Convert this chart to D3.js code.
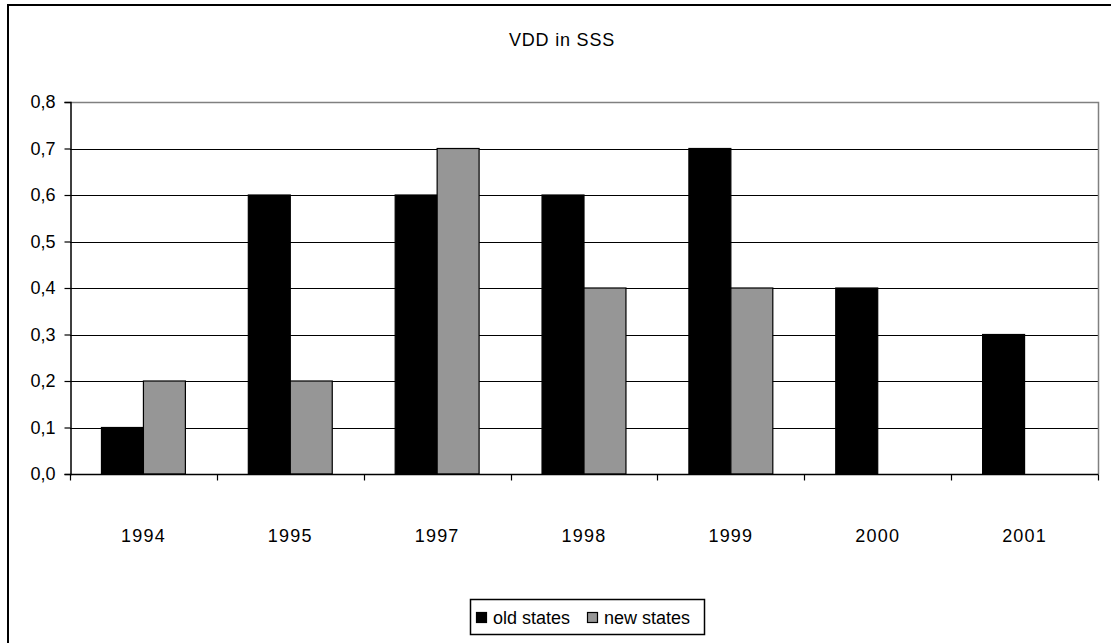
<!DOCTYPE html>
<html>
<head>
<meta charset="utf-8">
<script src="https://cdn.jsdelivr.net/npm/d3@7"></script>
<style>
  html, body { margin: 0; padding: 0; background: #fff; }
  svg { display: block; font-family: "Liberation Sans", Arial, sans-serif; }
</style>
</head>
<body>
<svg id="chart" width="1111" height="643"></svg>
<script>
// Chart data
const years = ["1994", "1995", "1997", "1998", "1999", "2000", "2001"];
const oldStates = [0.1, 0.6, 0.6, 0.6, 0.7, 0.4, 0.3];
const newStates = [0.2, 0.2, 0.7, 0.4, 0.4, null, null];
const seriesNames = ["old states", "new states"];
const seriesColors = ["#000000", "#969696"];
const yTicks = [0, 0.1, 0.2, 0.3, 0.4, 0.5, 0.6, 0.7, 0.8];
const title = "VDD in SSS";

const svg = d3.select("#chart");
const fmt = v => d3.format(".1f")(v).replace(".", ",");

// Outer chart frame (extends past the right and bottom edges)
svg.append("rect")
  .attr("x", 8).attr("y", 5).attr("width", 1200).attr("height", 800)
  .attr("fill", "none").attr("stroke", "#000").attr("stroke-width", 2);

const plot = { left: 70, right: 1098, top: 102, bottom: 474 };

const x = d3.scaleBand().domain(years)
  .range([plot.left, plot.right]).paddingInner(0).paddingOuter(0);
const y = d3.scaleLinear().domain([0, 0.8]).range([plot.bottom, plot.top]);

// Inner group layout: two bars + 150% gap
const barW = x.bandwidth() / 3.5;
const inner = d3.scaleBand().domain([0, 1])
  .range([0.75 * barW, 2.75 * barW]).padding(0);

// Horizontal gridlines
svg.append("g").selectAll("line")
  .data(yTicks.filter(t => t > 0 && t < 0.8))
  .join("line")
  .attr("x1", plot.left).attr("x2", plot.right)
  .attr("y1", d => Math.round(y(d)) + 0.5).attr("y2", d => Math.round(y(d)) + 0.5)
  .attr("stroke", "#000").attr("stroke-width", 1.2);

// Plot area border (top and right)
svg.append("path")
  .attr("d", `M${plot.left},${plot.top + 0.5}H${plot.right + 0.5}V${plot.bottom}`)
  .attr("fill", "none").attr("stroke", "#808080").attr("stroke-width", 1.5);

// Bars
const rows = years.map((yr, i) => ({ yr, vals: [oldStates[i], newStates[i]] }));
const groups = svg.append("g").selectAll("g")
  .data(rows).join("g")
  .attr("transform", d => `translate(${x(d.yr)},0)`);
groups.selectAll("rect")
  .data(d => d.vals.map((v, k) => ({ v, k })).filter(e => e.v != null))
  .join("rect")
  .attr("x", e => inner(e.k))
  .attr("y", e => y(e.v))
  .attr("width", inner.bandwidth())
  .attr("height", e => y(0) - y(e.v))
  .attr("fill", e => seriesColors[e.k])
  .attr("stroke", "#000").attr("stroke-width", 1.2);

// Y axis
const yAxis = d3.axisLeft(y).tickValues(yTicks).tickFormat(fmt)
  .tickSize(6).tickPadding(9);
const gy = svg.append("g").attr("transform", `translate(${plot.left + 0.5},0)`).call(yAxis);
gy.select(".domain").attr("stroke", "#000").attr("stroke-width", 1.5);
gy.selectAll(".tick line").attr("stroke", "#000").attr("stroke-width", 1.2);
gy.selectAll("text").attr("font-size", 18).attr("fill", "#000")
  .attr("font-family", "Liberation Sans, Arial, sans-serif");

// X axis with tick marks on category boundaries
const gx = svg.append("g").attr("transform", `translate(0,${plot.bottom + 0.5})`);
gx.append("line").attr("x1", plot.left).attr("x2", plot.right + 0.5)
  .attr("stroke", "#000").attr("stroke-width", 1.5);
const bounds = years.map(d => x(d)).concat([plot.right]);
gx.selectAll("line.tk").data(bounds).join("line").attr("class", "tk")
  .attr("x1", d => Math.round(d) + 0.5).attr("x2", d => Math.round(d) + 0.5)
  .attr("y1", 0).attr("y2", 6).attr("stroke", "#000").attr("stroke-width", 1.2);
gx.selectAll("text").data(years).join("text")
  .attr("x", d => x(d) + x.bandwidth() / 2)
  .attr("y", 67)
  .attr("text-anchor", "middle")
  .attr("font-size", 18)
  .attr("letter-spacing", 1.2)
  .text(d => d);

// Title
svg.append("text").attr("x", 562).attr("y", 46)
  .attr("text-anchor", "middle").attr("font-size", 18)
  .attr("letter-spacing", 0.8)
  .text(title);

// Legend
const lg = svg.append("g");
lg.append("rect").attr("x", 470.5).attr("y", 599.5).attr("width", 234).attr("height", 35)
  .attr("fill", "#fff").attr("stroke", "#000").attr("stroke-width", 1.5);
const legendX = [476, 587];
seriesNames.forEach((name, k) => {
  lg.append("rect").attr("x", legendX[k] + 0.5).attr("y", 612.5)
    .attr("width", 10).attr("height", 10)
    .attr("fill", seriesColors[k]).attr("stroke", "#000").attr("stroke-width", 1.2);
  lg.append("text").attr("x", legendX[k] + 17).attr("y", 624)
    .attr("font-size", 18).text(name);
});
</script>
</body>
</html>
